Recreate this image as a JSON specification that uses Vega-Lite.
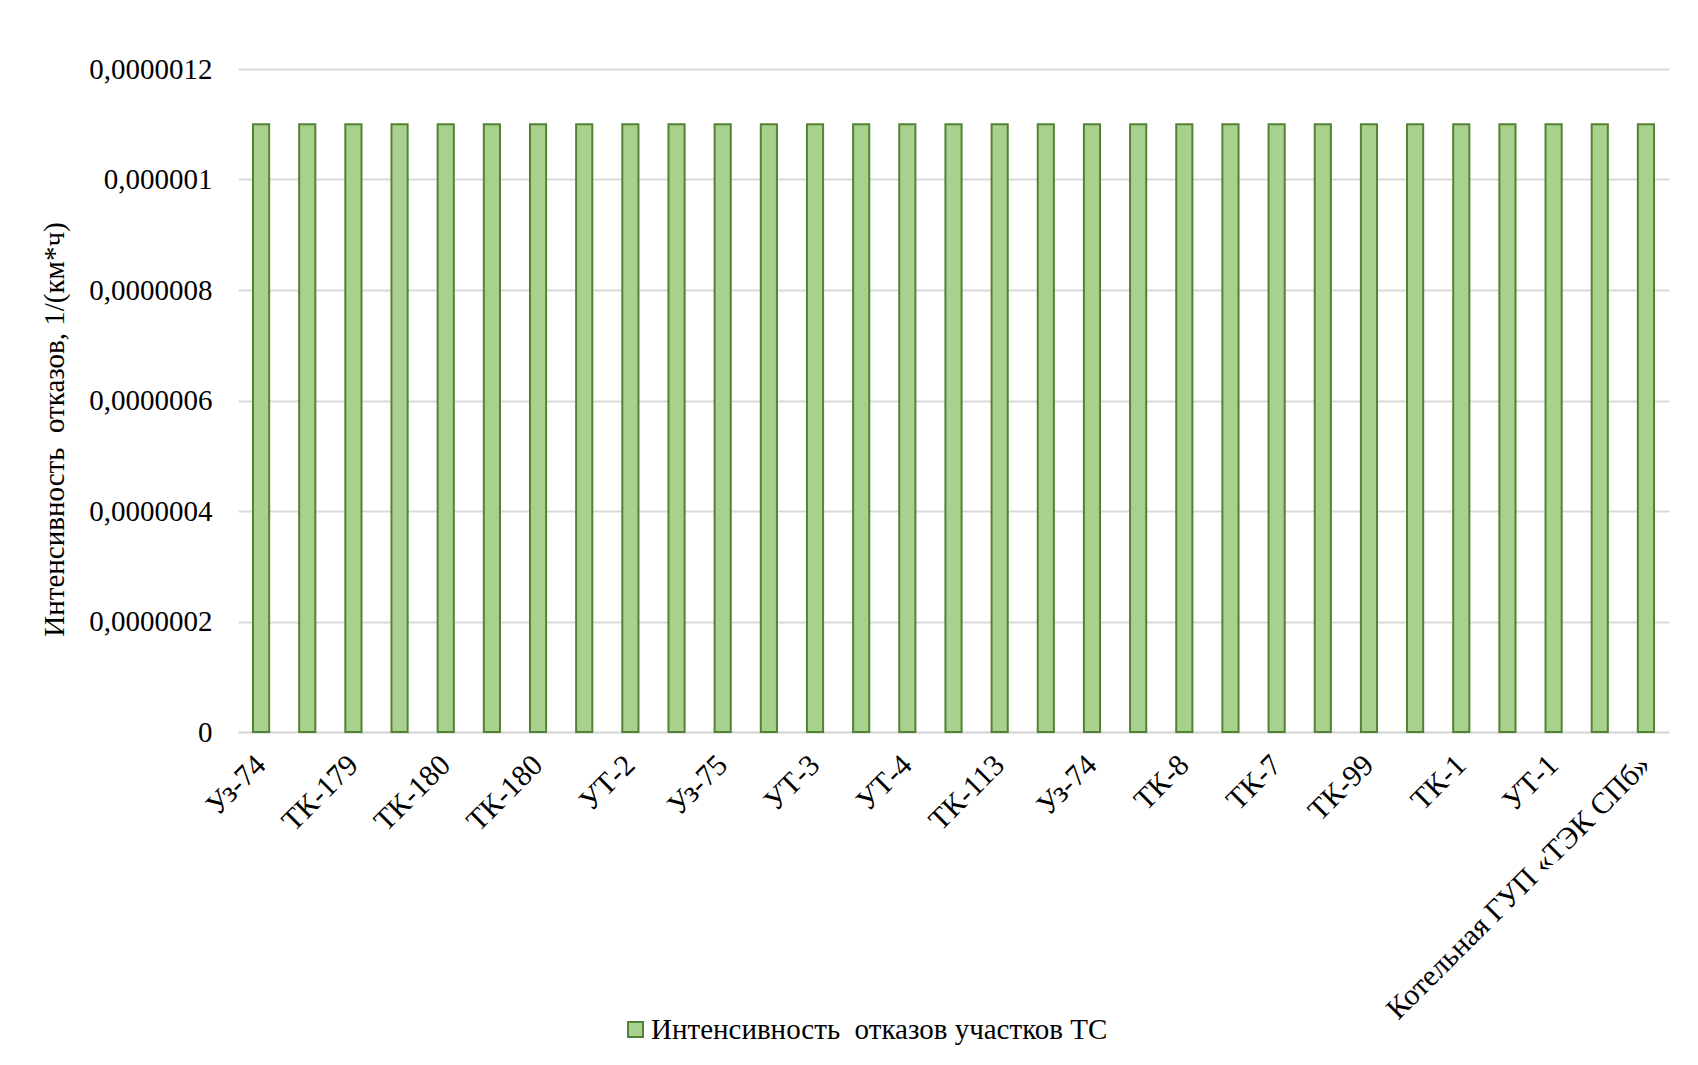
{
  "$schema": "https://vega.github.io/schema/vega-lite/v6.json",
  "autosize": {"type": "none"},
  "padding": {"left": 238, "top": 69, "right": 29, "bottom": 333},
  "width": 1431,
  "height": 663,
  "background": "white",
  "config": {
    "font": "Liberation Serif",
    "view": {"stroke": null}
  },
  "data": {
    "values": [
      {"key": "01|Уз-74", "value": 0.0000011, "series": "Интенсивность\u00a0 отказов участков ТС"},
      {"key": "02|", "value": 0.0000011, "series": "Интенсивность\u00a0 отказов участков ТС"},
      {"key": "03|ТК-179", "value": 0.0000011, "series": "Интенсивность\u00a0 отказов участков ТС"},
      {"key": "04|", "value": 0.0000011, "series": "Интенсивность\u00a0 отказов участков ТС"},
      {"key": "05|ТК-180", "value": 0.0000011, "series": "Интенсивность\u00a0 отказов участков ТС"},
      {"key": "06|", "value": 0.0000011, "series": "Интенсивность\u00a0 отказов участков ТС"},
      {"key": "07|ТК-180", "value": 0.0000011, "series": "Интенсивность\u00a0 отказов участков ТС"},
      {"key": "08|", "value": 0.0000011, "series": "Интенсивность\u00a0 отказов участков ТС"},
      {"key": "09|УТ-2", "value": 0.0000011, "series": "Интенсивность\u00a0 отказов участков ТС"},
      {"key": "10|", "value": 0.0000011, "series": "Интенсивность\u00a0 отказов участков ТС"},
      {"key": "11|Уз-75", "value": 0.0000011, "series": "Интенсивность\u00a0 отказов участков ТС"},
      {"key": "12|", "value": 0.0000011, "series": "Интенсивность\u00a0 отказов участков ТС"},
      {"key": "13|УТ-3", "value": 0.0000011, "series": "Интенсивность\u00a0 отказов участков ТС"},
      {"key": "14|", "value": 0.0000011, "series": "Интенсивность\u00a0 отказов участков ТС"},
      {"key": "15|УТ-4", "value": 0.0000011, "series": "Интенсивность\u00a0 отказов участков ТС"},
      {"key": "16|", "value": 0.0000011, "series": "Интенсивность\u00a0 отказов участков ТС"},
      {"key": "17|ТК-113", "value": 0.0000011, "series": "Интенсивность\u00a0 отказов участков ТС"},
      {"key": "18|", "value": 0.0000011, "series": "Интенсивность\u00a0 отказов участков ТС"},
      {"key": "19|Уз-74", "value": 0.0000011, "series": "Интенсивность\u00a0 отказов участков ТС"},
      {"key": "20|", "value": 0.0000011, "series": "Интенсивность\u00a0 отказов участков ТС"},
      {"key": "21|ТК-8", "value": 0.0000011, "series": "Интенсивность\u00a0 отказов участков ТС"},
      {"key": "22|", "value": 0.0000011, "series": "Интенсивность\u00a0 отказов участков ТС"},
      {"key": "23|ТК-7", "value": 0.0000011, "series": "Интенсивность\u00a0 отказов участков ТС"},
      {"key": "24|", "value": 0.0000011, "series": "Интенсивность\u00a0 отказов участков ТС"},
      {"key": "25|ТК-99", "value": 0.0000011, "series": "Интенсивность\u00a0 отказов участков ТС"},
      {"key": "26|", "value": 0.0000011, "series": "Интенсивность\u00a0 отказов участков ТС"},
      {"key": "27|ТК-1", "value": 0.0000011, "series": "Интенсивность\u00a0 отказов участков ТС"},
      {"key": "28|", "value": 0.0000011, "series": "Интенсивность\u00a0 отказов участков ТС"},
      {"key": "29|УТ-1", "value": 0.0000011, "series": "Интенсивность\u00a0 отказов участков ТС"},
      {"key": "30|", "value": 0.0000011, "series": "Интенсивность\u00a0 отказов участков ТС"},
      {"key": "31|Котельная ГУП «ТЭК СПб»", "value": 0.0000011, "series": "Интенсивность\u00a0 отказов участков ТС"}
    ]
  },
  "mark": {"type": "bar", "stroke": "#548235", "strokeWidth": 2},
  "encoding": {
    "x": {
      "field": "key",
      "type": "nominal",
      "sort": "ascending",
      "scale": {"paddingInner": 0.65, "paddingOuter": 0.325},
      "axis": {
        "title": null,
        "labelExpr": "split(datum.value, '|')[1]",
        "labelAngle": -45,
        "labelAlign": "right",
        "labelBaseline": "middle",
        "labelFontSize": 30,
        "labelColor": "#000000",
        "labelPadding": 28,
        "labelLimit": 0,
        "labelOverlap": false,
        "ticks": false,
        "domainColor": "#D9D9D9",
        "domainWidth": 2,
        "grid": false
      }
    },
    "y": {
      "field": "value",
      "type": "quantitative",
      "scale": {"domain": [0, 0.0000012], "nice": false, "zero": true},
      "axis": {
        "title": "Интенсивность\u00a0 отказов, 1/(км*ч)",
        "titleFontSize": 29,
        "titleFontWeight": "normal",
        "titleColor": "#000000",
        "titleAngle": -90,
        "titleAlign": "center",
        "titleBaseline": "middle",
        "titleX": -184,
        "titleY": 360,
        "values": [0, 0.0000002, 0.0000004, 0.0000006, 0.0000008, 0.000001, 0.0000012],
        "labelExpr": "replace(format(datum.value, '.7~f'), '.', ',')",
        "labelFontSize": 29,
        "labelColor": "#000000",
        "labelPadding": 26,
        "ticks": false,
        "domain": false,
        "grid": true,
        "gridColor": "#D9D9D9",
        "gridWidth": 2
      }
    },
    "color": {
      "field": "series",
      "type": "nominal",
      "scale": {"range": ["#A9D18E"]},
      "legend": {
        "title": null,
        "orient": "none",
        "legendX": 383,
        "legendY": 946,
        "symbolType": "square",
        "symbolSize": 225,
        "symbolStrokeColor": "#548235",
        "symbolStrokeWidth": 2,
        "symbolFillColor": "#A9D18E",
        "labelFontSize": 29,
        "labelColor": "#000000",
        "labelOffset": 1,
        "labelLimit": 0,
        "padding": 0
      }
    }
  }
}
